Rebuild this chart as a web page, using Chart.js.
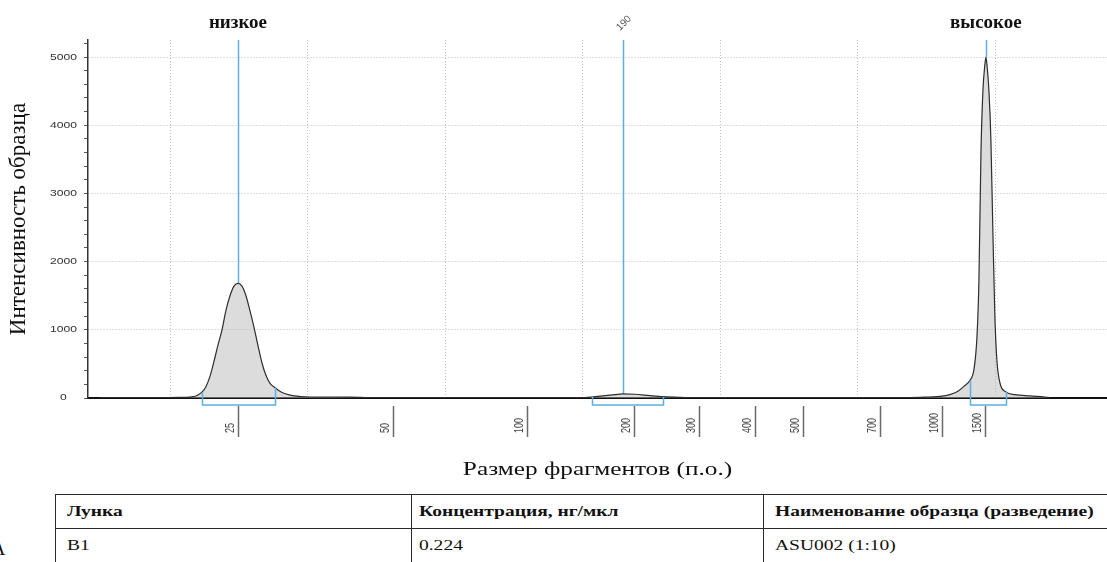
<!DOCTYPE html>
<html lang="ru">
<head>
<meta charset="utf-8">
<title>Электрофореграмма ASU002</title>
<script src="https://cdn.jsdelivr.net/npm/chart.js@4.4.1/dist/chart.umd.min.js"></script>
<style>
  html, body { margin: 0; padding: 0; background: #fff; overflow: hidden; }
  body { width: 1107px; height: 562px; position: relative; }
  #trace { position: absolute; left: 0; top: 0; }
  #info {
    position: absolute; left: 55px; top: 494px; width: 1130px;
    border-collapse: collapse; table-layout: fixed;
    font-family: "Liberation Serif", "Times New Roman", serif; font-size: 15px; color: #111;
  }
  #info th, #info td {
    border: 1.6px solid #2a2a2a; height: 33px; padding: 0 0 0 11px;
    text-align: left; vertical-align: middle; white-space: nowrap; overflow: visible;
  }
  #info th:nth-child(2), #info td:nth-child(2) { padding-left: 7px; }
  #info th { font-weight: bold; }
  #info span { display: inline-block; transform: scaleX(1.3); transform-origin: left center; }
  #panel {
    position: absolute; left: -9px; top: 537px;
    font-family: "Liberation Serif", serif; font-size: 20px; color: #111;
  }
</style>
</head>
<body>
<canvas id="trace" width="1107" height="490"></canvas>
<table id="info"><colgroup><col style="width:356px"><col style="width:352px"><col style="width:422px"></colgroup></table>
<div id="panel">А</div>
<script>
// Electropherogram trace: run position (arbitrary units) vs. sample intensity
const tracePosition = [
  49.1, 85.5, 107.3, 114.5, 118.9, 123.2, 126.2, 129.1, 132.0, 134.9,
  137.8, 140.7, 143.6, 146.5, 149.4, 152.3, 155.2, 158.1, 161.0, 163.9,
  166.9, 169.8, 172.7, 176.3, 181.4, 187.2, 194.5, 201.7, 230.8, 245.3,
  303.5, 397.9, 406.7, 416.1, 423.4, 429.2, 437.9, 448.8, 458.3, 470.6,
  485.2, 630.5, 645.0, 659.6, 666.8, 672.7, 677.0, 681.4, 684.3, 686.5,
  687.9, 689.4, 690.8, 692.3, 693.0, 693.7, 695.2, 696.6, 698.1, 699.5,
  701.0, 703.2, 707.5, 714.1, 725.0, 735.9, 739.5
];
const traceIntensity = [
  5, 5, 8, 14, 30, 85, 170, 320, 540, 780,
  1000, 1290, 1500, 1640, 1680, 1640, 1500, 1280, 1040, 770,
  510, 330, 215, 150, 80, 42, 22, 15, 14, 6,
  5, 5, 15, 35, 50, 60, 55, 35, 20, 10,
  5, 5, 10, 25, 50, 100, 170, 260, 420, 900,
  1700, 3600, 4500, 4900, 5000, 4900, 4500, 3800, 2400, 1200,
  550, 220, 90, 50, 30, 15, 5
];

// Size ladder (bp) and where each size falls on the run axis
const ladderSizes = ['25', '50', '100', '200', '300', '400', '500', '700', '1000', '1500'];
const ladderPosition = [149.4, 262.1, 359.4, 437.2, 484.4, 525.1, 560.0, 616.0, 661.0, 692.3];

// Called peaks: apex position, caption, integration range
const peakPosition = [149.4, 429.2, 693.0];
const peakLabels = ['низкое', '190', 'высокое'];
const peakStart = [123.2, 406.7, 681.4];
const peakEnd = [176.3, 458.3, 707.5];

// Axes
const runRange = [40.4, 781];
const intensityRange = [0, 5250];
const yTitle = 'Интенсивность образца';
const xTitle = 'Размер фрагментов (п.о.)';

// Sample table
const tableHeaders = ['Лунка', 'Концентрация, нг/мкл', 'Наименование образца (разведение)'];
const tableRow = ['B1', '0.224', 'ASU002 (1:10)'];

const tableEl = document.getElementById('info');
[tableHeaders, tableRow].forEach((cells, r) => {
  const tr = document.createElement('tr');
  cells.forEach(text => {
    const cell = document.createElement(r === 0 ? 'th' : 'td');
    const span = document.createElement('span');
    span.textContent = text;
    cell.appendChild(span);
    tr.appendChild(cell);
  });
  tableEl.appendChild(tr);
});

function intensityAt(pos) {
  for (let i = 1; i < tracePosition.length; i++) {
    if (pos <= tracePosition[i]) {
      const x0 = tracePosition[i - 1], x1 = tracePosition[i];
      const t = (pos - x0) / (x1 - x0);
      return traceIntensity[i - 1] + t * (traceIntensity[i] - traceIntensity[i - 1]);
    }
  }
  return 0;
}

const SANS = '"Liberation Sans", Arial, sans-serif';
const SERIF = '"Liberation Serif", "Times New Roman", serif';
const STRETCH = 1.35;
const BLUE = '#5eaee2';

const annotations = {
  id: 'annotations',
  beforeDatasetsDraw(chart) {
    const { ctx, chartArea, scales: { x, y } } = chart;
    ctx.save();
    ctx.strokeStyle = BLUE;
    ctx.lineWidth = 1.5;
    peakPosition.forEach(p => {
      const px = Math.round(x.getPixelForValue(p)) + 0.5;
      ctx.beginPath();
      ctx.moveTo(px, chartArea.top);
      ctx.lineTo(px, y.getPixelForValue(intensityAt(p)));
      ctx.stroke();
    });
    ctx.restore();
  },
  afterDatasetsDraw(chart) {
    const { ctx, chartArea, scales: { x, y } } = chart;
    const base = y.getPixelForValue(0);
    ctx.save();

    // integration brackets
    ctx.strokeStyle = BLUE;
    ctx.lineWidth = 1.5;
    peakStart.forEach((a, i) => {
      const b = peakEnd[i];
      const xa = Math.round(x.getPixelForValue(a)) + 0.5;
      const xb = Math.round(x.getPixelForValue(b)) + 0.5;
      ctx.beginPath();
      ctx.moveTo(xa, y.getPixelForValue(intensityAt(a)));
      ctx.lineTo(xa, base + 7);
      ctx.lineTo(xb, base + 7);
      ctx.lineTo(xb, y.getPixelForValue(intensityAt(b)));
      ctx.stroke();
    });

    // size ladder ticks and labels
    ctx.strokeStyle = '#6a6a6a';
    ctx.lineWidth = 1.5;
    ctx.fillStyle = '#444';
    ctx.font = '9px ' + SANS;
    ladderPosition.forEach((p, i) => {
      const px = Math.round(x.getPixelForValue(p)) + 0.5;
      ctx.beginPath();
      ctx.moveTo(px, base + 8);
      ctx.lineTo(px, base + 39);
      ctx.stroke();
      ctx.save();
      ctx.translate(px - 8, base + 35);
      ctx.scale(STRETCH, 1);
      ctx.rotate(-Math.PI / 2);
      ctx.textAlign = 'left';
      ctx.textBaseline = 'middle';
      ctx.fillText(ladderSizes[i], 0, 0);
      ctx.restore();
    });

    // intensity tick labels
    ctx.fillStyle = '#333';
    ctx.font = '9px ' + SANS;
    y.ticks.forEach(t => {
      if (t.value % 1000 !== 0) return;
      ctx.save();
      ctx.translate(63.5, y.getPixelForValue(t.value));
      ctx.scale(STRETCH, 1);
      ctx.textAlign = 'center';
      ctx.textBaseline = 'middle';
      ctx.fillText(String(t.value), 0, 0);
      ctx.restore();
    });

    // peak captions
    peakLabels.forEach((label, i) => {
      const px = x.getPixelForValue(peakPosition[i]);
      if (/^\d+$/.test(label)) {
        ctx.save();
        ctx.fillStyle = '#555';
        ctx.font = '10px ' + SANS;
        ctx.translate(px - 3, chartArea.top - 9);
        ctx.rotate(-Math.PI / 4);
        ctx.textAlign = 'left';
        ctx.textBaseline = 'alphabetic';
        ctx.fillText(label, 0, 0);
        ctx.restore();
      } else {
        ctx.fillStyle = '#111';
        ctx.font = 'bold 19px ' + SERIF;
        ctx.textAlign = 'center';
        ctx.textBaseline = 'alphabetic';
        ctx.fillText(label, px, chartArea.top - 12);
      }
    });

    // axis titles
    ctx.fillStyle = '#111';
    ctx.save();
    ctx.font = '23px ' + SERIF;
    ctx.translate(25, (chartArea.top + chartArea.bottom) / 2 + 0);
    ctx.rotate(-Math.PI / 2);
    ctx.textAlign = 'center';
    ctx.textBaseline = 'alphabetic';
    ctx.fillText(yTitle, 0, 0);
    ctx.restore();

    ctx.save();
    ctx.font = '19px ' + SERIF;
    ctx.translate((chartArea.left + chartArea.right) / 2, base + 77);
    ctx.scale(1.33, 1);
    ctx.textAlign = 'center';
    ctx.textBaseline = 'alphabetic';
    ctx.fillText(xTitle, 0, 0);
    ctx.restore();

    ctx.restore();
  }
};

const majorGrid = step => c => (c.tick && c.tick.value % step === 0 && c.tick.value > 0) ? '#bfbfbf' : 'rgba(0,0,0,0)';

new Chart(document.getElementById('trace'), {
  type: 'line',
  data: {
    datasets: [{
      data: tracePosition.map((p, i) => ({ x: p, y: traceIntensity[i] })),
      borderColor: '#2e2e2e',
      borderWidth: 1.2,
      backgroundColor: 'rgba(185,185,185,0.5)',
      fill: 'origin',
      pointRadius: 0,
      cubicInterpolationMode: 'monotone'
    }]
  },
  options: {
    responsive: false,
    animation: false,
    layout: { padding: { top: 40, left: 0, right: 0, bottom: 0 } },
    plugins: { legend: { display: false }, tooltip: { enabled: false } },
    scales: {
      x: {
        type: 'linear',
        min: runRange[0],
        max: runRange[1],
        ticks: { display: false, stepSize: 100, includeBounds: false },
        grid: { color: majorGrid(100), lineWidth: 1, drawTicks: false },
        border: { display: true, color: '#111', width: 2, dash: [1, 2] },
        afterFit: s => { s.height = 92; }
      },
      y: {
        min: intensityRange[0],
        max: intensityRange[1],
        ticks: { display: false, stepSize: 200, includeBounds: false },
        grid: { color: majorGrid(1000), lineWidth: 1, tickLength: 4, tickColor: '#555', tickWidth: 1 },
        border: { display: true, color: '#333', width: 1.5, dash: [1, 2] },
        afterFit: s => { s.width = 88; }
      }
    }
  },
  plugins: [annotations]
});
</script>
</body>
</html>
